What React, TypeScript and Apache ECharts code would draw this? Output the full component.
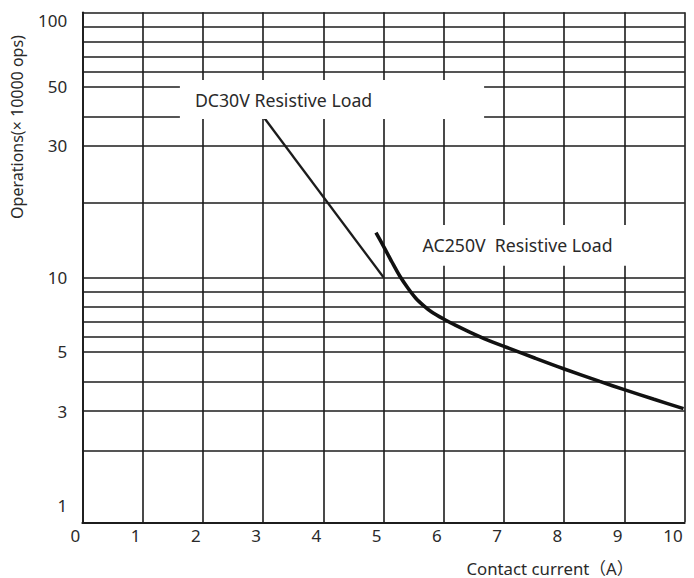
import React, { useEffect, useRef } from "react";
import * as echarts from "echarts";

// ---------------- data ----------------
const xTicks = [0, 1, 2, 3, 4, 5, 6, 7, 8, 9, 10];
const yTickLabels = [100, 50, 30, 10, 5, 3, 1];
const yGridValues = [100, 90, 80, 70, 60, 50, 40, 30, 20, 10, 9, 8, 7, 6, 5, 4, 3, 2];

const dcCurrent = [3, 5];
const dcOps = [40, 10];

const acCurrent = [
  4.875, 5.01, 5.14, 5.27, 5.41, 5.54, 5.67, 5.8, 5.99, 6.2,
  6.44, 6.72, 7.05, 7.52, 7.99, 8.59, 9.01, 9.49, 9.98,
];
const acOps = [
  15.95, 14.0, 12.04, 10.17, 9.24, 8.57, 8.08, 7.66, 7.2, 6.75,
  6.29, 5.79, 5.28, 4.78, 4.43, 4.01, 3.72, 3.4, 3.08,
];

const dcLabel = "DC30V Resistive Load";
const acLabel = "AC250V  Resistive Load";
const xName = "Contact current\uFF08A\uFF09";
const yName = "Operations(\u00D7 10000 ops)";

// ---------------- non-uniform scale of the printed chart (value -> axis position) ----------------
const yScale: [number, number][] = [
  [1, 17.3], [2, 71.3], [3, 111.3], [4, 140.6], [5, 170.6], [6, 185.6], [7, 200.6],
  [8, 215.3], [9, 230.3], [10, 245], [20, 320], [30, 376.6], [40, 406], [50, 435.6],
  [60, 450.6], [70, 465.3], [80, 480.3], [90, 495.6], [100, 510],
];
const Y_MAX = 510;

function toPos(v: number): number {
  for (let i = 0; i < yScale.length - 1; i++) {
    const [v0, p0] = yScale[i];
    const [v1, p1] = yScale[i + 1];
    if (v >= v0 && v <= v1) return p0 + ((v - v0) / (v1 - v0)) * (p1 - p0);
  }
  if (v < yScale[0][0]) {
    const [v0, p0] = yScale[0];
    const [v1, p1] = yScale[1];
    return p0 + ((v - v0) / (v1 - v0)) * (p1 - p0);
  }
  return Y_MAX;
}

const FONT = "'Noto Sans', 'Noto Sans CJK SC', sans-serif";
const INK = "#1c1c1c";
const TEXT = "#2a2a2a";

export default function App() {
  const ref = useRef<HTMLDivElement>(null);

  useEffect(() => {
    if (!ref.current) return;
    const chart = echarts.init(ref.current, null, { renderer: "svg" });

    const labelPositions = yTickLabels.map((v) => toPos(v));

    const option: any = {
      animation: false,
      backgroundColor: "#ffffff",
      grid: { left: 82.3, right: 9.3, top: 12.3, bottom: 55.7 },
      xAxis: {
        type: "value",
        min: xTicks[0],
        max: xTicks[xTicks.length - 1],
        interval: 1,
        axisLine: { show: true, lineStyle: { color: INK, width: 1.8 } },
        axisTick: { show: false },
        splitLine: { show: true, lineStyle: { color: INK, width: 1.6 } },
        axisLabel: {
          color: TEXT,
          fontFamily: FONT,
          fontSize: 17,
          margin: 5,
          align: "right",
          padding: [0, 2, 0, 0],
        },
      },
      yAxis: {
        type: "value",
        min: 0,
        max: Y_MAX,
        axisLine: { show: true, lineStyle: { color: INK, width: 1.8 } },
        axisTick: { show: false },
        splitLine: { show: false },
        axisLabel: {
          customValues: labelPositions,
          margin: 15,
          color: TEXT,
          fontFamily: FONT,
          fontSize: 17,
          formatter: (val: number) => {
            let best = yTickLabels[0];
            let bd = Infinity;
            yTickLabels.forEach((t) => {
              const d = Math.abs(toPos(t) - val);
              if (d < bd) {
                bd = d;
                best = t;
              }
            });
            return best === 100 ? "{top|" + best + "}" : "{n|" + best + "}";
          },
          rich: {
            top: { fontFamily: FONT, fontSize: 17, color: TEXT, padding: [16, 0, 0, 0] },
            n: { fontFamily: FONT, fontSize: 17, color: TEXT },
          },
        },
      },
      series: [
        {
          name: "DC30V",
          type: "line",
          z: 1,
          silent: true,
          symbol: "none",
          data: dcCurrent.map((x, i) => [x, toPos(dcOps[i])]),
          lineStyle: { color: INK, width: 2.3 },
          markLine: {
            z: 1,
            silent: true,
            symbol: "none",
            label: { show: false },
            lineStyle: { color: INK, width: 1.6, type: "solid" },
            emphasis: { disabled: true },
            data: yGridValues.map((v) => ({ yAxis: toPos(v) })),
          },
        },
        {
          name: "boxes",
          type: "line",
          z: 3,
          silent: true,
          symbol: "none",
          data: [],
          markArea: {
            z: 3,
            silent: true,
            itemStyle: { color: "#ffffff", opacity: 1 },
            label: {
              show: true,
              position: "insideLeft",
              distance: 15,
              color: TEXT,
              fontFamily: FONT,
              fontSize: 17.7,
            },
            emphasis: { disabled: true },
            data: [
              [
                { name: dcLabel, xAxis: 1.62, yAxis: 403.3 },
                { xAxis: 6.67, yAxis: 442.3 },
              ],
              [
                { name: acLabel, xAxis: 5.2, yAxis: 256.6, label: { distance: 27 } },
                { xAxis: 9.8, yAxis: 297.3 },
              ],
            ],
          },
        },
        {
          name: "AC250V",
          type: "line",
          z: 6,
          silent: true,
          symbol: "none",
          smooth: 0.3,
          data: acCurrent.map((x, i) => [x, toPos(acOps[i])]),
          lineStyle: { color: "#111111", width: 3.6 },
        },
      ],
      graphic: [
        {
          type: "text",
          x: 17,
          y: 127,
          rotation: Math.PI / 2,
          style: {
            text: yName,
            fontFamily: FONT,
            fontSize: 16,
            fill: TEXT,
            align: "center",
            verticalAlign: "middle",
          },
        },
        {
          type: "text",
          x: 550,
          y: 568,
          style: {
            text: xName,
            fontFamily: FONT,
            fontSize: 16.8,
            fill: TEXT,
            align: "center",
            verticalAlign: "middle",
          },
        },
      ],
    };

    chart.setOption(option);
    return () => chart.dispose();
  }, []);

  return (
    <div
      ref={ref}
      style={{ position: "fixed", left: 0, top: 0, width: 694, height: 578, background: "#fff" }}
    />
  );
}
